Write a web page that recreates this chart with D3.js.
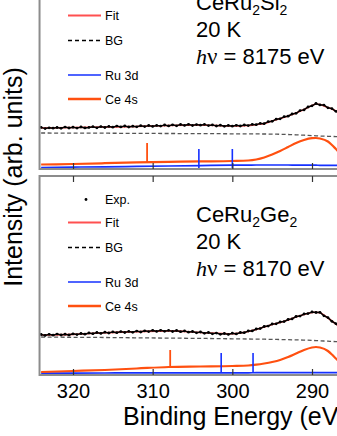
<!DOCTYPE html>
<html>
<head>
<meta charset="utf-8">
<script src="https://cdn.jsdelivr.net/npm/d3@7"></script>
<style>
body { margin: 0; background: #fff; }
svg { display: block; font-family: "Liberation Sans", Arial, sans-serif; }
</style>
</head>
<body>
<svg id="chart" width="337" height="436"></svg>
<script>
// binding energy grid of the measured points (eV)
var EXP_E = [324,323.5,323,322.5,322,321.5,321,320.5,320,319.5,319,318.5,318,317.5,317,316.5,316,315.5,315,314.5,
    314,313.5,313,312.5,312,311.5,311,310.5,310,309.5,309,308.5,308,307.5,307,306.5,306,305.5,305,304.5,
    304,303.5,303,302.5,302,301.5,301,300.5,300,299.5,299,298.5,298,297.5,297,296.5,296,295.5,295,294.5,
    294,293.5,293,292.5,292,291.5,291,290.5,290,289.5,289,288.5,288,287.5,287,286.5];

// CeRu2Si2 measured intensity (arb.)
var SI_EXP = [41.6,40.4,41.2,40.8,41.5,40.7,41.9,41.0,41.8,40.9,42.0,41.1,41.6,42.3,41.2,42.4,41.5,42.6,41.8,42.9,
    42.1,43.0,42.0,42.8,42.2,43.3,42.4,43.5,42.6,43.6,42.9,44.0,43.1,44.2,43.2,44.5,43.6,44.6,43.5,44.4,
    43.8,44.6,43.4,44.1,43.0,43.8,42.7,43.6,42.8,43.7,43.0,44.0,43.4,44.6,44.3,45.6,45.3,47.3,47.7,49.8,
    50.2,52.3,52.8,55.0,55.7,58.4,59.1,62.0,63.2,65.5,64.1,63.9,61.2,60.4,57.7,56.3];

// CeRu2Ge2 measured intensity (arb.)
var GE_EXP = [40.5,39.6,40.7,39.8,40.9,40.0,40.8,40.1,41.2,40.4,41.5,40.8,42.0,41.3,42.5,41.6,42.8,42.0,43.1,42.3,
    43.4,42.5,43.6,42.7,43.9,43.0,44.2,43.4,44.6,43.6,44.7,43.7,44.6,43.5,44.5,43.3,44.1,42.8,43.5,42.2,
    43.0,41.7,42.5,41.2,41.9,40.7,41.5,40.6,41.8,41.1,42.5,42.3,44.0,44.1,46.0,46.4,48.5,48.9,51.0,51.2,
    53.0,53.4,55.5,56.1,58.5,58.9,61.0,61.4,63.0,62.5,62.7,59.2,57.4,53.7,51.3,47.8];

// energy grid of the fit components (eV)
var COMP_E = [324,320,316,312,308,304,300,298,297,296,295,294,293,292,291,290,289.5,289,288,287.5,287,286.5,286];

var SI_FIT = [41,41.5,42,42.5,43.5,44,43,43.5,44.5,45.5,48,50.5,53,56,59.5,63.5,65,64.5,61.5,60,58,56,54];
var SI_BG  = [36,35.9,35.8,35.6,35.5,35.4,35.2,35.1,35.05,35,34.9,34.7,34.5,34.2,33.8,33.4,33.2,33,32.7,32.6,32.4,32.3,32.2];
var SI_CE  = [4.5,5,5.8,6.6,7.2,7.6,8,8.5,9.5,11.5,14.5,18,22,26,29,30.8,31,30.5,27.5,24,20,16,13];
var SI_RU  = [1.5,1.9,2.2,2.6,3,3.4,3.8,3.9,4,4,4,4,4,3.9,3.9,3.8,3.8,3.7,3.7,3.6,3.6,3.6,3.6];

var GE_FIT = [40,40.6,42.3,43.3,44.1,42.5,41.2,43.5,45.5,48,50.5,52.5,55,58,60.5,62.5,62.8,62.3,57,54,51,48,45];
var GE_BG  = [38,37.7,37.5,37.2,36.9,36.6,36.2,36,35.9,35.8,35.6,35.5,35.3,35.1,34.9,34.6,34.4,34.2,33.8,33.6,33.4,33.2,33];
var GE_CE  = [3,4,5,6.5,8,8.5,9,9.5,10.3,11.5,13,15,18,21.5,25,27.5,28,27.5,24,20.5,16.5,13,10.5];
var GE_RU  = [1.8,1.9,2,2.1,2.1,2.2,2.2,2.2,2.3,2.3,2.3,2.3,2.3,2.3,2.4,2.4,2.4,2.4,2.4,2.4,2.4,2.4,2.4];

// peak position markers: energy, low and high intensity
var SI_CE_MARK = [[310.7, 7, 26]];
var SI_RU_MARK = [[304.2, 1, 20], [300.0, 1, 20]];
var GE_CE_MARK = [[307.8, 8, 25]];
var GE_RU_MARK = [[301.4, 2, 22], [297.4, 2, 22]];

var X_TICKS = [320, 310, 300, 290];
var LEGEND = ["Exp.", "Fit", "BG", "Ru 3d", "Ce 4s"];

var C_FIT = "#ff5050", C_CE = "#ff5010", C_RU = "#1530ff", C_AX = "#8c8c8c";

var svg = d3.select("#chart");
var x = d3.scaleLinear().domain([320, 290]).range([73, 312]);
var X0 = x(324.2);

var PANELS = [
    {id: "si", top: -31, bottom: 169, exp: SI_EXP, fit: SI_FIT, bg: SI_BG, ce: SI_CE, ru: SI_RU,
     ceMark: SI_CE_MARK, ruMark: SI_RU_MARK, name: ["CeRu", "2", "Si", "2"], hv: "8175", textY: 10},
    {id: "ge", top: 176, bottom: 375, exp: GE_EXP, fit: GE_FIT, bg: GE_BG, ce: GE_CE, ru: GE_RU,
     ceMark: GE_CE_MARK, ruMark: GE_RU_MARK, name: ["CeRu", "2", "Ge", "2"], hv: "8170", textY: 222}
];

function drawPanel(p, last) {
    var y = d3.scaleLinear().domain([0, 200]).range([p.bottom, p.bottom - 200]);
    var g = svg.append("g");

    svg.append("clipPath").attr("id", "clip_" + p.id)
        .append("rect").attr("x", X0).attr("y", p.top).attr("width", 337 - X0).attr("height", p.bottom - p.top);

    var plot = g.append("g").attr("clip-path", "url(#clip_" + p.id + ")");

    var comp = function(arr) {
        return arr.map(function(v, i) { return [COMP_E[i], v]; });
    };
    var line = d3.line()
        .x(function(d) { return x(d[0]); })
        .y(function(d) { return y(d[1]); })
        .curve(d3.curveMonotoneX);

    // background
    plot.append("path").attr("d", line(comp(p.bg)))
        .attr("fill", "none").attr("stroke", "#555").attr("stroke-width", 1.3)
        .attr("stroke-dasharray", "4,2.5");

    // components
    plot.append("path").attr("d", line(comp(p.ru)))
        .attr("fill", "none").attr("stroke", C_RU).attr("stroke-width", 1.7);
    plot.append("path").attr("d", line(comp(p.ce)))
        .attr("fill", "none").attr("stroke", C_CE).attr("stroke-width", 2.2);

    // markers
    plot.selectAll("line.ru").data(p.ruMark).enter().append("line")
        .attr("x1", function(d) { return x(d[0]); }).attr("x2", function(d) { return x(d[0]); })
        .attr("y1", function(d) { return y(d[1]); }).attr("y2", function(d) { return y(d[2]); })
        .attr("stroke", C_RU).attr("stroke-width", 1.6);
    plot.selectAll("line.ce").data(p.ceMark).enter().append("line")
        .attr("x1", function(d) { return x(d[0]); }).attr("x2", function(d) { return x(d[0]); })
        .attr("y1", function(d) { return y(d[1]); }).attr("y2", function(d) { return y(d[2]); })
        .attr("stroke", C_CE).attr("stroke-width", 1.8);

    // fit then measured points
    plot.append("path").attr("d", line(comp(p.fit)))
        .attr("fill", "none").attr("stroke", C_FIT).attr("stroke-width", 1.6);

    var expPts = p.exp.map(function(v, i) { return [EXP_E[i], v]; });
    plot.append("path")
        .attr("d", d3.line().x(function(d) { return x(d[0]); }).y(function(d) { return y(d[1]); })(expPts))
        .attr("fill", "none").attr("stroke", "#000").attr("stroke-width", 1.5);
    plot.selectAll("circle").data(expPts).enter().append("circle")
        .attr("cx", function(d) { return x(d[0]); })
        .attr("cy", function(d) { return y(d[1]); })
        .attr("r", 1.4).attr("fill", "#000");

    // frame
    g.append("path")
        .attr("d", "M337," + p.top + "H" + X0 + "V" + p.bottom + "H337")
        .attr("fill", "none").attr("stroke", C_AX).attr("stroke-width", 2);

    // inward ticks top and bottom
    var tb = g.append("g").attr("transform", "translate(0," + p.bottom + ")")
        .call(d3.axisBottom(x).tickValues(X_TICKS).tickSizeInner(-6).tickSizeOuter(0)
            .tickPadding(9).tickFormat(last ? d3.format("d") : ""));
    tb.select(".domain").remove();
    tb.selectAll("line").attr("stroke", "#333").attr("stroke-width", 1.2);
    tb.selectAll("text").attr("font-size", 20).attr("fill", "#000")
        .attr("font-family", "Liberation Sans, Arial, sans-serif");

    var tt = g.append("g").attr("transform", "translate(0," + p.top + ")")
        .call(d3.axisTop(x).tickValues(X_TICKS).tickSizeInner(-6).tickSizeOuter(0).tickFormat(""));
    tt.select(".domain").remove();
    tt.selectAll("line").attr("stroke", "#333").attr("stroke-width", 1.2);

    // legend
    var legY = [23.5, 46.5, 71.5, 106, 130];
    var leg = g.append("g").attr("font-size", 12.5);
    LEGEND.forEach(function(name, i) {
        var ly = p.top + legY[i];
        if (i === 0) {
            leg.append("circle").attr("cx", 86).attr("cy", ly).attr("r", 1.4).attr("fill", "#000");
        } else {
            var ln = leg.append("line").attr("x1", 68).attr("x2", 101).attr("y1", ly).attr("y2", ly);
            if (name === "Fit") ln.attr("stroke", C_FIT).attr("stroke-width", 1.8);
            if (name === "BG") ln.attr("stroke", "#000").attr("stroke-width", 1.3).attr("stroke-dasharray", "4,3");
            if (name === "Ru 3d") ln.attr("stroke", C_RU).attr("stroke-width", 1.5);
            if (name === "Ce 4s") ln.attr("stroke", C_CE).attr("stroke-width", 2.4);
        }
        leg.append("text").attr("x", 105).attr("y", ly).attr("dy", "0.36em").text(name);
    });

    // sample annotation
    var ann = g.append("g").attr("font-size", 22).attr("fill", "#000");
    var t1 = ann.append("text").attr("x", 196).attr("y", p.textY);
    t1.append("tspan").text(p.name[0]);
    t1.append("tspan").attr("font-size", 14).attr("dy", 5).text(p.name[1]);
    t1.append("tspan").attr("dy", -5).text(p.name[2]);
    t1.append("tspan").attr("font-size", 14).attr("dy", 5).text(p.name[3]);
    ann.append("text").attr("x", 196).attr("y", p.textY + 27).text("20 K");
    var t3 = ann.append("text").attr("x", 196).attr("y", p.textY + 54);
    t3.append("tspan").attr("font-family", "Liberation Serif, serif").attr("font-style", "italic").text("h");
    t3.append("tspan").attr("font-family", "Liberation Serif, serif").attr("font-size", 23).text("\u03bd");
    t3.append("tspan").text(" = " + p.hv + " eV");
}

PANELS.forEach(function(p, i) { drawPanel(p, i === PANELS.length - 1); });

svg.append("text")
    .attr("transform", "translate(22,177) rotate(-90)")
    .attr("text-anchor", "middle").attr("font-size", 25)
    .text("Intensity (arb. units)");

svg.append("text")
    .attr("x", 123).attr("y", 425).attr("font-size", 25)
    .text("Binding Energy (eV)");
</script>
</body>
</html>
